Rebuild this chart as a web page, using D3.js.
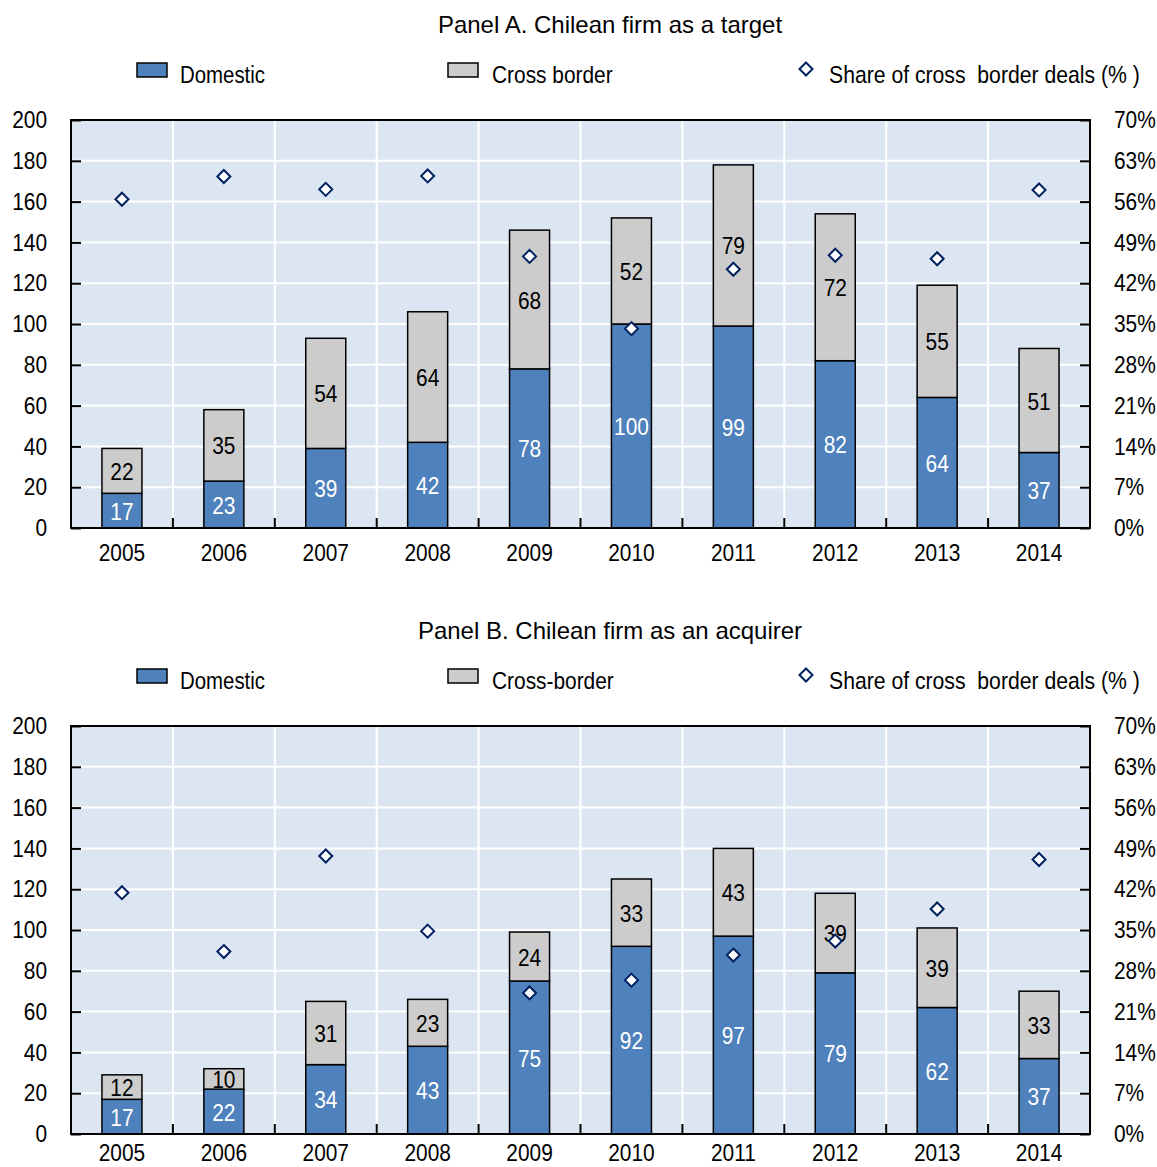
<!DOCTYPE html>
<html><head><meta charset="utf-8">
<script src="https://cdn.jsdelivr.net/npm/d3@7"></script>
<style>
body{margin:0;background:#fff;}
svg text{font-family:"Liberation Sans",Arial,sans-serif;}
</style></head>
<body><svg id="c" width="1157" height="1167"></svg>
<script>
const years = ["2005","2006","2007","2008","2009","2010","2011","2012","2013","2014"];
const domesticA = [17,23,39,42,78,100,99,82,64,37];
const crossA = [22,35,54,64,68,52,79,72,55,51];
const shareA = [56.4,60.3,58.1,60.4,46.6,34.2,44.4,46.8,46.2,58.0];
const domesticB = [17,22,34,43,75,92,97,79,62,37];
const crossB = [12,10,31,23,24,33,43,39,39,33];
const shareB = [41.4,31.3,47.7,34.8,24.2,26.4,30.7,33.1,38.6,47.1];
const leftTicks = [0,20,40,60,80,100,120,140,160,180,200];
const rightTicks = [0,7,14,21,28,35,42,49,56,63,70];

const svg = d3.select("#c");
const BLUE="#4f81bd", GREY="#cccccc", BG="#dce6f2", NAVY="#002060";
const FS = 24;
const diamond = "M0,-6.5L6.5,0L0,6.5L-6.5,0Z";

function panel(cfg){
  const g = svg.append("g");
  const L=71, R=1090, T=cfg.top, B=cfg.top+408;
  const x = d3.scaleBand().domain(years).range([L,R]).paddingInner(0).paddingOuter(0);
  const y = d3.scaleLinear().domain([0,200]).range([B,T]);
  const y2 = d3.scaleLinear().domain([0,70]).range([B,T]);
  // title
  g.append("text").attr("class","title").attr("x",610).attr("y",cfg.titleY).attr("text-anchor","middle")
    .attr("font-size",24).attr("fill","#000").text(cfg.title);
  // legend
  const ly = cfg.titleY+50;
  g.append("rect").attr("x",137).attr("y",ly-20).attr("width",30).attr("height",14)
    .attr("fill",BLUE).attr("stroke","#000").attr("stroke-width",1.5);
  g.append("text").attr("x",180).attr("y",ly).attr("font-size",FS).attr("data-k",0.85).text("Domestic");
  g.append("rect").attr("x",448).attr("y",ly-20).attr("width",30).attr("height",14)
    .attr("fill",GREY).attr("stroke","#000").attr("stroke-width",1.5);
  g.append("text").attr("x",492).attr("y",ly).attr("font-size",FS).attr("data-k",0.87).text(cfg.crossLabel);
  g.append("path").attr("d",diamond)
    .attr("transform",`translate(806,${ly-14})`).attr("fill","#fff").attr("stroke",NAVY).attr("stroke-width",2);
  g.append("text").attr("x",829).attr("y",ly).attr("font-size",FS).attr("xml:space","preserve")
    .attr("data-fit",311).text("Share of cross  border deals (% )");
  // background
  g.append("rect").attr("x",L).attr("y",T).attr("width",R-L).attr("height",B-T).attr("fill",BG);
  // grid
  g.selectAll(".hg").data(leftTicks.slice(1,-1)).join("line")
    .attr("x1",L).attr("x2",R).attr("y1",d=>y(d)).attr("y2",d=>y(d))
    .attr("stroke","#fff").attr("stroke-width",2);
  g.selectAll(".vg").data(years.slice(1)).join("line")
    .attr("x1",d=>x(d)).attr("x2",d=>x(d)).attr("y1",T).attr("y2",B)
    .attr("stroke","#fff").attr("stroke-width",2);
  // bars
  const bw = 40;
  const bars = g.append("g");
  years.forEach((yr,i)=>{
    const cx = x(yr)+x.bandwidth()/2;
    const d = cfg.dom[i], c = cfg.cross[i];
    bars.append("rect").attr("x",cx-bw/2).attr("y",y(d)).attr("width",bw).attr("height",y(0)-y(d))
      .attr("fill",BLUE).attr("stroke","#000").attr("stroke-width",1.5);
    bars.append("rect").attr("x",cx-bw/2).attr("y",y(d+c)).attr("width",bw).attr("height",y(d)-y(d+c))
      .attr("fill",GREY).attr("stroke","#000").attr("stroke-width",1.5);
  });
  // labels
  years.forEach((yr,i)=>{
    const cx = x(yr)+x.bandwidth()/2;
    const d = cfg.dom[i], c = cfg.cross[i];
    g.append("text").attr("x",cx).attr("y",y(d/2)+9).attr("text-anchor","middle")
      .attr("font-size",FS).attr("fill","#fff").text(d);
    g.append("text").attr("x",cx).attr("y",y(d+c/2)+9).attr("text-anchor","middle")
      .attr("font-size",FS).attr("fill","#000").text(c);
  });
  // diamonds
  g.selectAll(".dm").data(cfg.share).join("path")
    .attr("d",diamond)
    .attr("transform",(d,i)=>`translate(${x(years[i])+x.bandwidth()/2},${y2(d)})`)
    .attr("fill","#fff").attr("stroke",NAVY).attr("stroke-width",2);
  // frame
  g.append("rect").attr("x",L).attr("y",T).attr("width",R-L).attr("height",B-T)
    .attr("fill","none").attr("stroke","#000").attr("stroke-width",2);
  // axes
  const la = d3.axisLeft(y).tickValues(leftTicks).tickSize(-10).tickPadding(24).tickFormat(d3.format("d"));
  const lg = g.append("g").attr("transform",`translate(${L},0)`).call(la);
  const ra = d3.axisRight(y2).tickValues(rightTicks).tickSize(-10).tickPadding(24).tickFormat(d=>d+"%");
  const rg = g.append("g").attr("transform",`translate(${R},0)`).call(ra);
  const xa = d3.axisBottom(x).tickSize(0).tickPadding(cfg.xPad);
  const xg = g.append("g").attr("transform",`translate(0,${B})`).call(xa);
  [lg,rg,xg].forEach(a=>{
    a.select(".domain").remove();
    a.selectAll("line").attr("stroke","#000").attr("stroke-width",2);
    a.selectAll("text").attr("font-size",FS).attr("fill","#000").attr("font-family",null);
  });
  // x boundary ticks
  g.selectAll(".xt").data(years.slice(1)).join("line")
    .attr("x1",d=>x(d)).attr("x2",d=>x(d)).attr("y1",B).attr("y2",B-10)
    .attr("stroke","#000").attr("stroke-width",2);
}

panel({top:120,titleY:33,xPad:16,title:"Panel A. Chilean firm as a target",crossLabel:"Cross border",dom:domesticA,cross:crossA,share:shareA});
panel({top:726,titleY:639,xPad:10,title:"Panel B. Chilean firm as an acquirer",crossLabel:"Cross-border",dom:domesticB,cross:crossB,share:shareB});

// condense all non-title texts horizontally (narrow typeface look) via transform
svg.selectAll("text").filter(function(){ return !this.classList.contains("title"); })
  .each(function(){
    const s = d3.select(this);
    let k = 0.87;
    if (s.attr("data-k")) k = +s.attr("data-k");
    if (s.attr("data-fit")) k = +s.attr("data-fit") / this.getComputedTextLength();
    const tx = +(s.attr("x")||0), ty = +(s.attr("y")||0);
    s.attr("x",0).attr("y",0).attr("transform",`translate(${tx},${ty}) scale(${k},1)`);
  });
</script></body></html>
